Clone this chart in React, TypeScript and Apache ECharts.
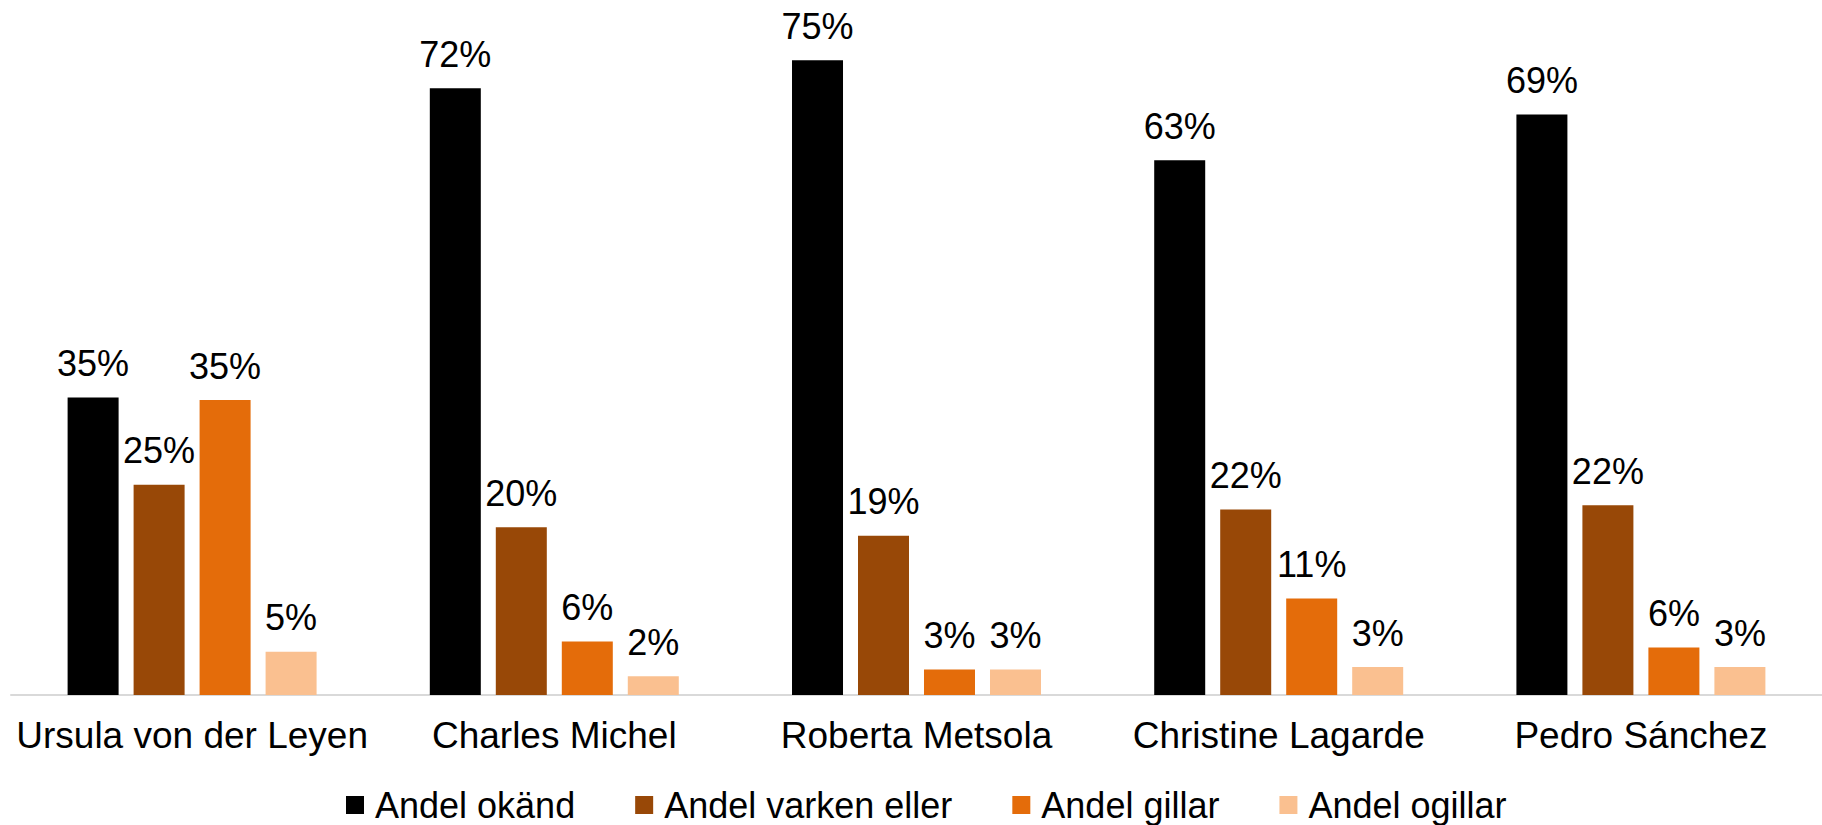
import React, { useEffect, useRef } from "react";
import * as echarts from "echarts";

const categories = ["Ursula von der Leyen", "Charles Michel", "Roberta Metsola", "Christine Lagarde", "Pedro Sánchez"];
const seriesNames = ["Andel okänd", "Andel varken eller", "Andel gillar", "Andel ogillar"];
const okand = [35.1, 71.6, 74.9, 63.1, 68.5];
const varken = [24.8, 19.8, 18.8, 21.9, 22.4];
const gillar = [34.8, 6.3, 3, 11.4, 5.6];
const ogillar = [5.1, 2.2, 3, 3.3, 3.3];
const colors = ["#000000", "#984807", "#E46C0A", "#FAC090"];

export default function App() {
  const ref = useRef<HTMLDivElement>(null);
  useEffect(() => {
    if (!ref.current) return;
    const chart = echarts.init(ref.current, null, { renderer: "svg" });
    const font = "'Liberation Sans', Arial, sans-serif";
    const values = [okand, varken, gillar, ogillar];
    chart.setOption({
      animation: false,
      backgroundColor: "#ffffff",
      textStyle: { fontFamily: font },
      grid: { left: 11, right: 0, top: 17, bottom: 130, containLabel: false },
      legend: {
        left: 341,
        top: 782,
        itemWidth: 18,
        itemHeight: 18,
        itemGap: 60,
        icon: "rect",
        textStyle: { fontSize: 36, color: "#000", fontFamily: font, padding: [0, 0, 0, 6] },
        data: seriesNames,
      },
      xAxis: {
        type: "category",
        data: categories,
        axisLine: { show: true, lineStyle: { color: "#d9d9d9", width: 2 } },
        axisTick: { show: false },
        axisLabel: { color: "#000", fontSize: 37, fontFamily: font, margin: 22, interval: 0 },
      },
      yAxis: {
        type: "value",
        min: 0,
        max: 80,
        show: false,
        splitLine: { show: false },
      },
      series: seriesNames.map((name, i) => ({
        name,
        type: "bar",
        data: values[i],
        barWidth: 51,
        barGap: "29.4%",
        itemStyle: { color: colors[i] },
        label: {
          show: true,
          position: "top",
          distance: 16,
          color: "#000",
          fontSize: 36,
          fontFamily: font,
          formatter: (p: any) => Math.round(p.value) + "%",
        },
      })),
    });
    return () => chart.dispose();
  }, []);
  return (
    <div
      ref={ref}
      style={{ position: "fixed", left: 0, top: 0, width: 1822, height: 825, background: "#fff" }}
    />
  );
}
